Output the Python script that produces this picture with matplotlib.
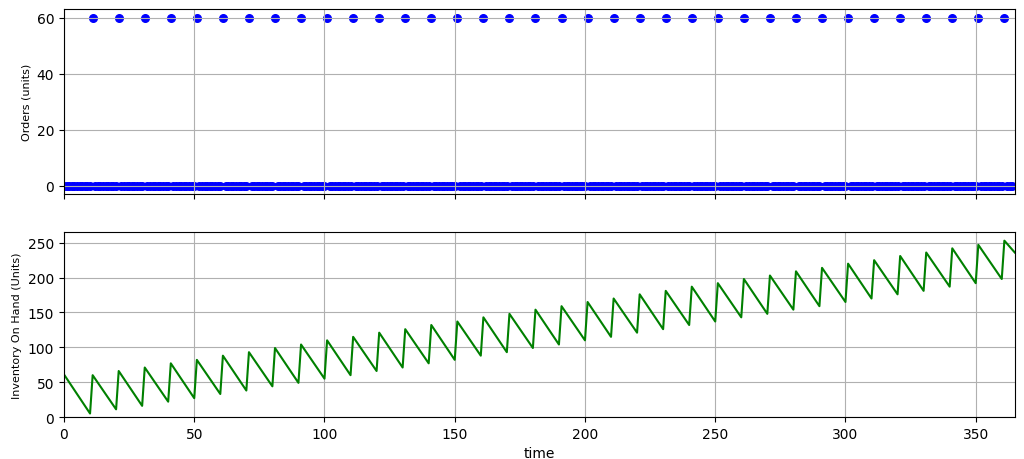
import numpy as np
import matplotlib
matplotlib.use("Agg")
import matplotlib.pyplot as plt

# dias em que chega uma encomenda e a quantidade encomendada
dias_encomenda = list(range(11, 362, 10))
qtd_encomenda = 60
horizonte = 365

# inventário: início, picos (após a chegada) e vales (antes)
inv_inicio = 61
inv_picos = [60, 66, 71, 77, 82, 88, 93, 99, 104, 110, 115, 121, 126, 132, 137, 143,
             148, 154, 159, 165, 170, 176, 181, 187, 192, 198, 203, 209, 214, 220,
             225, 231, 236, 242, 247, 253]
inv_vales = [5, 11, 16, 22, 27, 33, 38, 44, 49, 55, 60, 66, 71, 77, 82, 88, 93, 99,
             104, 110, 115, 121, 126, 132, 137, 143, 148, 154, 159, 165, 170, 176,
             181, 187, 192, 198]
inv_fim = 236

# série de encomendas diária
tempo = np.arange(0, horizonte)
encomendas = np.zeros(len(tempo))
for d in dias_encomenda:
    encomendas[d] = qtd_encomenda
mask_zero = encomendas == 0

# vértices da curva de inventário
t_inv = [0]
v_inv = [inv_inicio]
for d, vale, pico in zip(dias_encomenda, inv_vales, inv_picos):
    t_inv += [d - 1, d]
    v_inv += [vale, pico]
t_inv.append(horizonte)
v_inv.append(inv_fim)

fig, (ax1, ax2) = plt.subplots(2, 1, figsize=(10.24, 4.6), dpi=100, sharex=True)
fig.subplots_adjust(left=0.0625, right=0.991, top=0.978, bottom=0.0913, hspace=0.205)

ax1.scatter(tempo[mask_zero], encomendas[mask_zero], color="b", s=30)
ax1.scatter(tempo[~mask_zero], encomendas[~mask_zero], color="b", s=30)
ax1.set_ylabel("Orders (units)", fontsize=8)
ax1.grid(True)

ax2.plot(t_inv, v_inv, color="g", linewidth=1.5)
ax2.set_ylabel("Inventory On Hand (Units)", fontsize=8)
ax2.set_xlabel("time")
ax2.set_ylim(bottom=0)
ax2.set_xlim(0, horizonte)
ax2.grid(True)

plt.savefig("out.png", dpi=100)
